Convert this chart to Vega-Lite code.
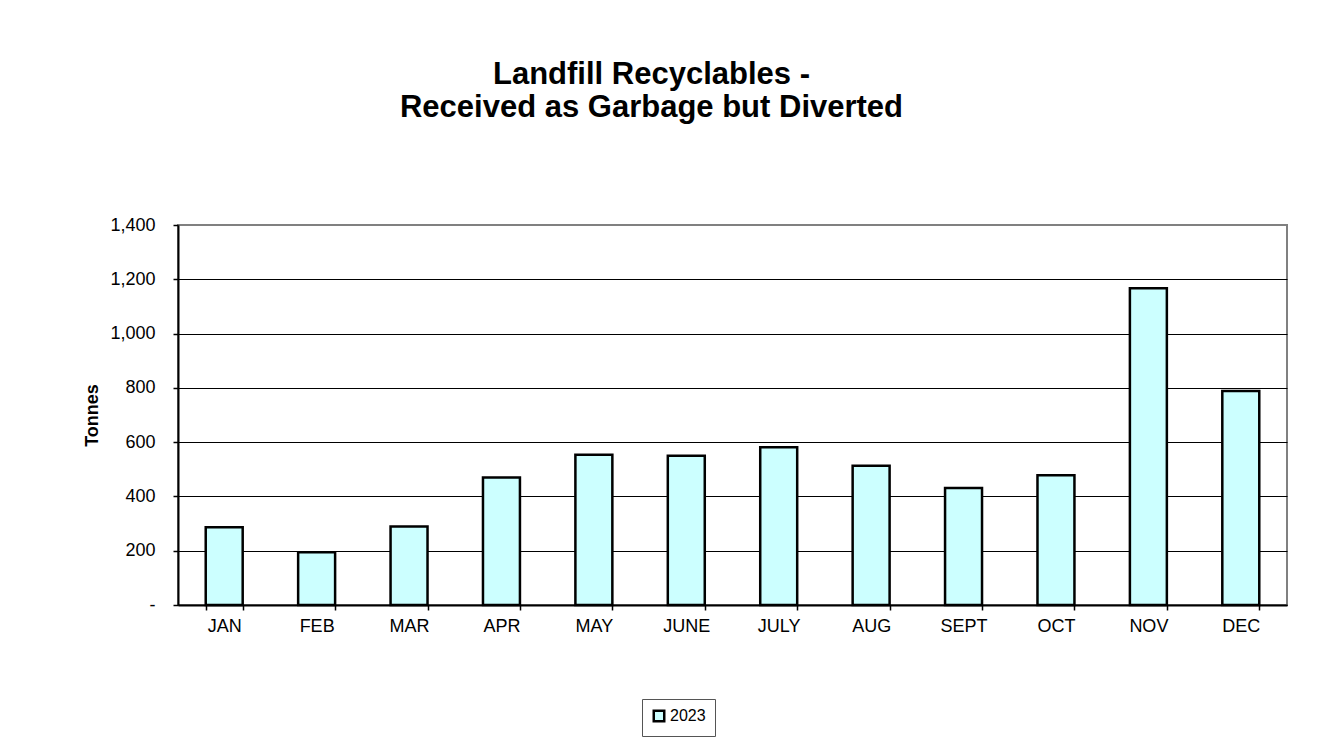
{
  "$schema": "https://vega.github.io/schema/vega-lite/v6.json",
  "width": 1109,
  "height": 380,
  "autosize": {"type": "none"},
  "padding": {"left": 178, "top": 225, "right": 37, "bottom": 136},
  "background": "white",
  "title": {
    "text": ["Landfill Recyclables -", "Received as Garbage but Diverted"],
    "font": "Liberation Sans",
    "fontSize": 31,
    "fontWeight": "bold",
    "color": "black",
    "lineHeight": 33,
    "anchor": "middle",
    "dx": -81,
    "offset": 92
  },
  "data": {
    "values": [
      {"month": "JAN", "series": "2023", "tonnes": 286},
      {"month": "FEB", "series": "2023", "tonnes": 194},
      {"month": "MAR", "series": "2023", "tonnes": 289},
      {"month": "APR", "series": "2023", "tonnes": 470},
      {"month": "MAY", "series": "2023", "tonnes": 554},
      {"month": "JUNE", "series": "2023", "tonnes": 550},
      {"month": "JULY", "series": "2023", "tonnes": 581},
      {"month": "AUG", "series": "2023", "tonnes": 513},
      {"month": "SEPT", "series": "2023", "tonnes": 431},
      {"month": "OCT", "series": "2023", "tonnes": 478},
      {"month": "NOV", "series": "2023", "tonnes": 1167},
      {"month": "DEC", "series": "2023", "tonnes": 788}
    ]
  },
  "mark": {"type": "bar", "stroke": "black", "strokeWidth": 2.5},
  "encoding": {
    "x": {
      "field": "month",
      "type": "nominal",
      "sort": null,
      "scale": {"paddingInner": 0.6, "paddingOuter": 0.3},
      "axis": {
        "title": null,
        "labelAngle": 0,
        "tickBand": "extent",
        "tickSize": 5,
        "tickColor": "black",
        "tickWidth": 1.5,
        "domainColor": "black",
        "domainWidth": 2,
        "labelFont": "Liberation Sans",
        "labelFontSize": 18,
        "labelColor": "black",
        "labelPadding": 7,
        "grid": false
      }
    },
    "y": {
      "field": "tonnes",
      "type": "quantitative",
      "scale": {"domain": [0, 1400], "nice": false},
      "axis": {
        "title": "Tonnes",
        "titleFont": "Liberation Sans",
        "titleFontSize": 18,
        "titleFontWeight": "bold",
        "titleColor": "black",
        "titlePadding": 8,
        "values": [0, 200, 400, 600, 800, 1000, 1200, 1400],
        "labelExpr": "datum.value == 0 ? '-' : format(datum.value, ',')",
        "labelFont": "Liberation Sans",
        "labelFontSize": 18,
        "labelColor": "black",
        "labelPadding": 18,
        "tickSize": 5,
        "tickColor": "black",
        "tickWidth": 1.5,
        "domainColor": "black",
        "domainWidth": 2,
        "grid": true,
        "gridColor": {"condition": {"test": "datum.value == 1400", "value": "#808080"}, "value": "black"},
        "gridWidth": 1
      }
    },
    "fill": {
      "field": "series",
      "type": "nominal",
      "scale": {"range": ["#CCFFFF"]},
      "legend": {
        "orient": "none",
        "legendX": 464,
        "legendY": 474,
        "title": null,
        "padding": 9,
        "strokeColor": "#555555",
        "symbolType": "square",
        "symbolSize": 110,
        "symbolStrokeColor": "black",
        "symbolStrokeWidth": 2.5,
        "labelFont": "Liberation Sans",
        "labelFontSize": 16,
        "labelColor": "black",
        "labelOffset": 3
      }
    }
  },
  "config": {
    "view": {"stroke": "#808080", "strokeWidth": 2}
  }
}
